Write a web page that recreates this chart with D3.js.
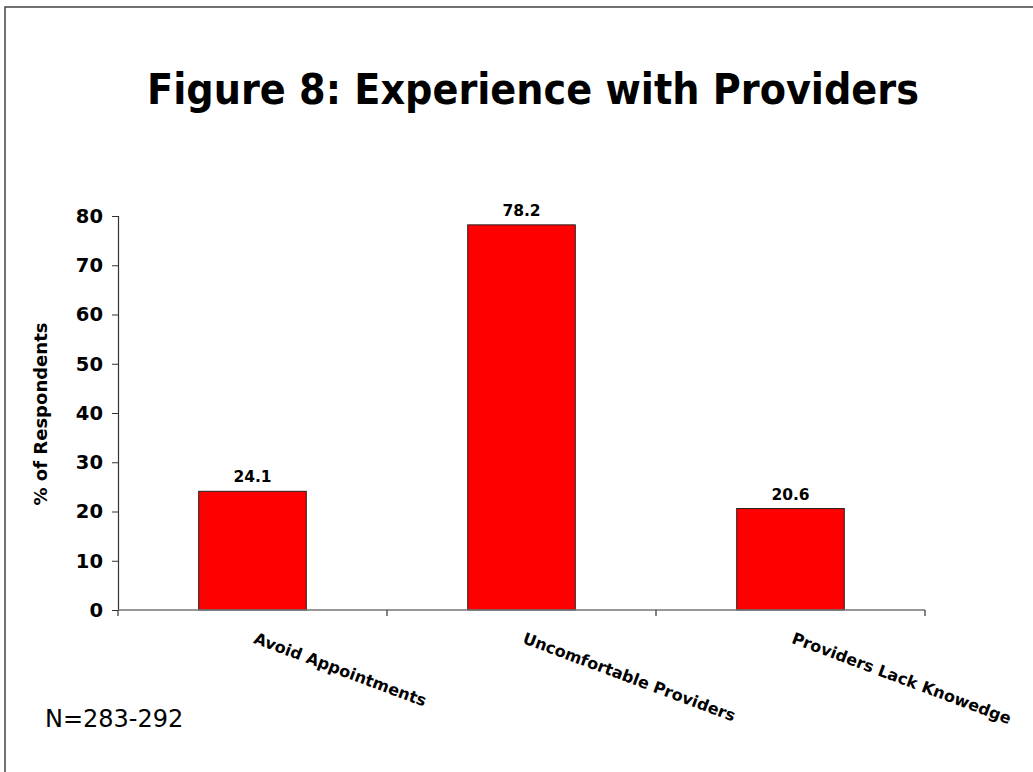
<!DOCTYPE html>
<html>
<head>
<meta charset="utf-8">
<script src="https://cdn.jsdelivr.net/npm/d3@7/dist/d3.min.js"></script>
<style>
  html, body { margin: 0; padding: 0; background: #fff; }
  svg { display: block; }
</style>
</head>
<body>
<svg id="chart" width="1033" height="772"></svg>
<script>
const categories = ["Avoid Appointments", "Uncomfortable Providers", "Providers Lack Knowedge"];
const values = [24.1, 78.2, 20.6];
const yTicks = [0, 10, 20, 30, 40, 50, 60, 70, 80];
const titleText = "Figure 8: Experience with Providers";
const yAxisTitle = "% of Respondents";
const noteText = "N=283-292";

const svg = d3.select("#chart");
const font = "'DejaVu Sans', Verdana, sans-serif";

// frame
svg.append("rect")
  .attr("x", 5).attr("y", 7).attr("width", 1040).attr("height", 780)
  .attr("fill", "#fff").attr("stroke", "#444").attr("stroke-width", 1.5);

const x0 = 118, x1 = 925, yTop = 216, yBottom = 610;

const x = d3.scaleBand().domain(categories).range([x0, x1])
  .paddingInner(0.6).paddingOuter(0.3);
const xb = d3.scaleBand().domain(categories).range([x0, x1]).padding(0);
const y = d3.scaleLinear().domain([0, 80]).range([yBottom, yTop]);

// title (condensed bold, fitted to the reference width by font size)
const title = svg.append("text")
  .attr("x", 533).attr("y", 104)
  .attr("text-anchor", "middle")
  .attr("font-family", "'DejaVu Sans Condensed', 'DejaVu Sans', sans-serif")
  .attr("font-stretch", "condensed")
  .attr("font-weight", "bold").attr("font-size", 44)
  .attr("fill", "#000")
  .text(titleText);
const tw = title.node().getComputedTextLength();
if (tw > 0) title.attr("font-size", Math.min(48, 44 * 772 / tw));

// bars
svg.append("g").selectAll("rect").data(values).join("rect")
  .attr("x", (d, i) => x(categories[i]))
  .attr("y", d => y(d))
  .attr("width", x.bandwidth())
  .attr("height", d => y(0) - y(d))
  .attr("fill", "#FF0000")
  .attr("stroke", "#222").attr("stroke-width", 1);

// value labels
svg.append("g").selectAll("text").data(values).join("text")
  .attr("x", (d, i) => x(categories[i]) + x.bandwidth() / 2)
  .attr("y", d => y(d) - 9)
  .attr("text-anchor", "middle")
  .attr("font-family", font).attr("font-weight", "bold").attr("font-size", 15.5)
  .text(d => d.toFixed(1));

// y axis
const yAxis = d3.axisLeft(y).tickValues(yTicks).tickSize(6).tickPadding(9);
const gy = svg.append("g").attr("transform", `translate(${x0},0)`).call(yAxis);
gy.select(".domain").attr("stroke", "#333").attr("stroke-width", 1.2);
gy.selectAll(".tick line").attr("stroke", "#333");
gy.selectAll(".tick text")
  .attr("font-family", font).attr("font-weight", "bold").attr("font-size", 19.5)
  .attr("fill", "#000");

// x axis: boundaries ticks
const boundaries = [x0].concat(categories.map(c => xb(c) + xb.bandwidth()));
svg.append("line").attr("x1", x0).attr("x2", x1).attr("y1", yBottom).attr("y2", yBottom)
  .attr("stroke", "#777").attr("stroke-width", 1.5);
svg.append("g").selectAll("line").data(boundaries).join("line")
  .attr("x1", d => d).attr("x2", d => d)
  .attr("y1", yBottom).attr("y2", yBottom + 6)
  .attr("stroke", "#333").attr("stroke-width", 1.2);

// category labels rotated
svg.append("g").selectAll("text").data(categories).join("text")
  .attr("transform", c => `translate(${xb(c) + xb.bandwidth() / 2 + 5},${630}) rotate(20.5)`)
  .attr("dy", "0.85em")
  .attr("font-family", font).attr("font-weight", "bold").attr("font-size", 16)
  .attr("fill", "#000")
  .text(c => c);

// y axis title
svg.append("text")
  .attr("transform", `translate(47,${(yTop + yBottom) / 2 + 1}) rotate(-90)`)
  .attr("text-anchor", "middle")
  .attr("font-family", font).attr("font-weight", "bold").attr("font-size", 17)
  .attr("textLength", 183).attr("lengthAdjust", "spacingAndGlyphs")
  .text(yAxisTitle);

// note
svg.append("text")
  .attr("x", 45).attr("y", 727)
  .attr("font-family", font).attr("font-size", 24)
  .text(noteText);
</script>
</body>
</html>
